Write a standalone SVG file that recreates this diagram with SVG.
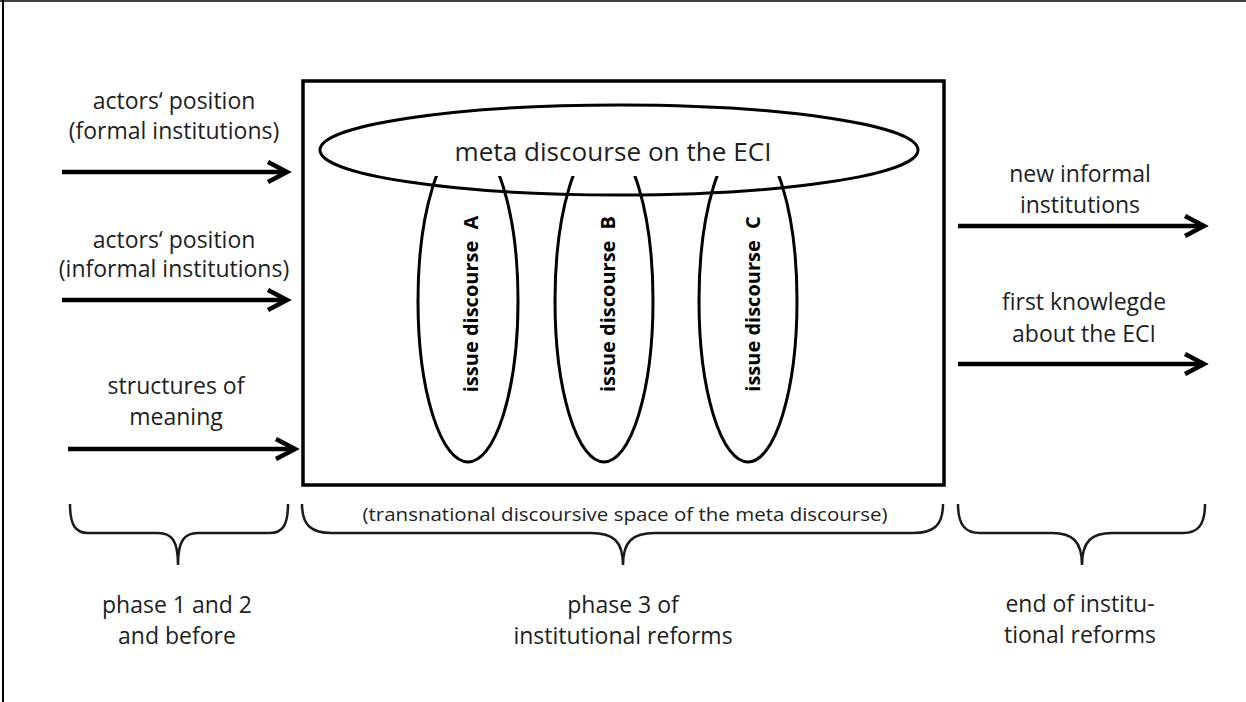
<svg xmlns="http://www.w3.org/2000/svg" width="1246" height="702" viewBox="0 0 1246 702">
<style>
.t{font-family:"Open Sans","Liberation Sans",sans-serif;font-size:23px;fill:#1e1e1e;text-anchor:middle}
.s{font-size:18px}
.b{font-family:"Open Sans","Liberation Sans",sans-serif;font-size:20px;font-weight:bold;fill:#000;text-anchor:middle}
.ln{stroke:#000;fill:none}
.arr{stroke:#000;stroke-width:4.5;fill:none;marker-end:url(#chev)}
.br{stroke:#1a1a1a;stroke-width:2.5;fill:none}
</style>
<defs>
<marker id="chev" markerUnits="userSpaceOnUse" markerWidth="40" markerHeight="40" viewBox="-30 -20 40 40" refX="0" refY="0" orient="auto">
<path d="M-19,-10 L0,0 L-19,10" stroke="#000" stroke-width="4.5" fill="none"/>
</marker>
<clipPath id="below"><rect x="300" y="176" width="650" height="320"/></clipPath>
</defs>
<rect width="1246" height="702" fill="#fff"/>
<g id="frame">
<line class="ln" x1="0" y1="1" x2="1246" y2="1" stroke-width="1.5"/>
<line class="ln" x1="3" y1="0" x2="3" y2="702" stroke-width="2"/>
</g>
<g id="space">
<rect class="ln" x="303" y="81" width="641" height="404" stroke-width="3.5"/>
</g>
<g id="meta">
<ellipse class="ln" cx="619" cy="150" rx="299" ry="45" stroke-width="3"/>
<text class="t" x="613" y="161" style="font-size:25px" textLength="317" lengthAdjust="spacingAndGlyphs">meta discourse on the ECI</text>
</g>
<g id="issueA">
<ellipse class="ln" cx="468" cy="301" rx="50" ry="161" stroke-width="3" clip-path="url(#below)"/>
<text class="b" transform="translate(478,304) rotate(-90)">issue discourse <tspan dx="6">A</tspan></text>
</g>
<g id="issueB">
<ellipse class="ln" cx="604" cy="301" rx="49" ry="161" stroke-width="3" clip-path="url(#below)"/>
<text class="b" transform="translate(615,304) rotate(-90)">issue discourse <tspan dx="6">B</tspan></text>
</g>
<g id="issueC">
<ellipse class="ln" cx="748" cy="301" rx="49" ry="161" stroke-width="3" clip-path="url(#below)"/>
<text class="b" transform="translate(760,304) rotate(-90)">issue discourse <tspan dx="6">C</tspan></text>
</g>
<g id="in1">
<text class="t" x="174" y="109">actors‘ position</text>
<text class="t" x="174" y="139">(formal institutions)</text>
</g>
<g id="in2">
<text class="t" x="174" y="248">actors‘ position</text>
<text class="t" x="174" y="277">(informal institutions)</text>
</g>
<g id="in3">
<text class="t" x="176" y="394">structures of</text>
<text class="t" x="176" y="425">meaning</text>
</g>
<g id="out1">
<text class="t" x="1080" y="182">new informal</text>
<text class="t" x="1080" y="213">institutions</text>
</g>
<g id="out2">
<text class="t" x="1084" y="310">first knowlegde</text>
<text class="t" x="1084" y="342">about the ECI</text>
</g>
<g id="connectors">
<line class="arr" x1="62" y1="172" x2="287" y2="172"/>
<line class="arr" x1="62" y1="300" x2="287" y2="300"/>
<line class="arr" x1="68" y1="449" x2="295" y2="449"/>
<line class="arr" x1="958" y1="226" x2="1204" y2="226"/>
<line class="arr" x1="958" y1="364" x2="1204" y2="364"/>
</g>
<g id="brace1">
<path class="br" d="M70,504 C70,526 76,533 88,533 L158,533 C172,533 178,541 178,565 C178,541 184,533 198,533 L270,533 C282,533 288,526 288,504"/>
<text class="t" x="177" y="613">phase 1 and 2</text>
<text class="t" x="177" y="644">and before</text>
</g>
<g id="brace2">
<path class="br" d="M302,504 C302,526 312,533 332,533 L591,533 C613,533 623,541 623,565 C623,541 633,533 655,533 L913,533 C933,533 943,526 943,504"/>
<text class="t s" x="625" y="521" textLength="525" lengthAdjust="spacingAndGlyphs">(transnational discoursive space of the meta discourse)</text>
<text class="t" x="623" y="613">phase 3 of</text>
<text class="t" x="623" y="644">institutional reforms</text>
</g>
<g id="brace3">
<path class="br" d="M958,504 C958,526 966,533 980,533 L1052,533 C1072,533 1082,541 1082,565 C1082,541 1092,533 1112,533 L1183,533 C1197,533 1205,526 1205,504"/>
<text class="t" x="1080" y="612">end of institu-</text>
<text class="t" x="1080" y="643">tional reforms</text>
</g>
</svg>
